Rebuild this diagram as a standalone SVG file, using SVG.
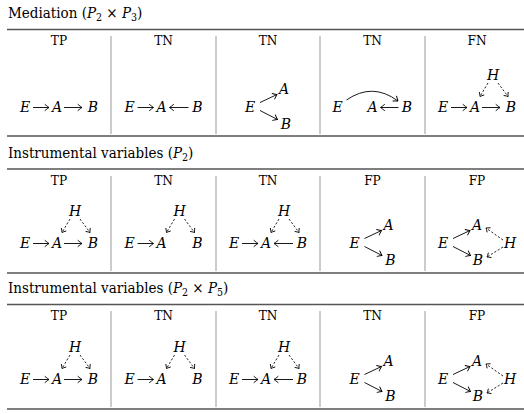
<svg xmlns="http://www.w3.org/2000/svg" width="524" height="414" viewBox="0 0 524 414">
<style>
.t{font-family:'DejaVu Serif Condensed','DejaVu Serif',serif;font-size:15px;fill:#000}
.h{font-family:'DejaVu Serif Condensed','DejaVu Serif',serif;font-size:13.5px;fill:#000;text-anchor:middle}
.m{font-family:'DejaVu Serif','DejaVu Serif Condensed',serif;font-size:14px;font-style:italic;fill:#000;text-anchor:middle}
.rule{stroke:#555;stroke-width:1.3}
.vsep{stroke:#999;stroke-width:1}
.c{fill:none;stroke:#000;stroke-width:0.9;marker-end:url(#ah)}
.d{fill:none;stroke:#000;stroke-width:0.85;stroke-dasharray:2.2 1.8;marker-end:url(#ahd)}
</style>
<defs>
<marker id="ah" viewBox="-6 -5 8 10" refX="0" refY="0" markerWidth="8" markerHeight="10" markerUnits="userSpaceOnUse" orient="auto" overflow="visible">
<path d="M-4,-3 Q-1.2,-0.8 0,0 Q-1.2,0.8 -4,3" fill="none" stroke="#000" stroke-width="0.9" stroke-linecap="round"/>
</marker>
<marker id="ahd" viewBox="-6 -5 8 10" refX="0" refY="0" markerWidth="8" markerHeight="10" markerUnits="userSpaceOnUse" orient="auto" overflow="visible">
<path d="M-3.2,-2.6 Q-1,-0.6 0,0 Q-1,0.6 -3.2,2.6" fill="none" stroke="#000" stroke-width="0.85" stroke-dasharray="none" stroke-linecap="round"/>
</marker>
</defs>

<g id="titles">
<text class="t" x="8" y="18">Mediation (<tspan font-style="italic">P</tspan><tspan font-size="10.5" dy="3">2</tspan><tspan dy="-3"> × </tspan><tspan font-style="italic">P</tspan><tspan font-size="10.5" dy="3">3</tspan><tspan dy="-3">)</tspan></text>
<text class="t" x="8" y="158">Instrumental variables (<tspan font-style="italic">P</tspan><tspan font-size="10.5" dy="3">2</tspan><tspan dy="-3">)</tspan></text>
<text class="t" x="8" y="293">Instrumental variables (<tspan font-style="italic">P</tspan><tspan font-size="10.5" dy="3">2</tspan><tspan dy="-3"> × </tspan><tspan font-style="italic">P</tspan><tspan font-size="10.5" dy="3">5</tspan><tspan dy="-3">)</tspan></text>
</g>

<g id="rules">
<line class="rule" x1="7" y1="29.5" x2="524" y2="29.5"/>
<line class="rule" x1="7" y1="136" x2="524" y2="136"/>
<line class="rule" x1="7" y1="169" x2="524" y2="169"/>
<line class="rule" x1="7" y1="273" x2="524" y2="273"/>
<line class="rule" x1="7" y1="304.5" x2="524" y2="304.5"/>
<line class="rule" x1="7" y1="409" x2="524" y2="409"/>
<g class="vsep">
<line x1="111" y1="36" x2="111" y2="134"/><line x1="216" y1="36" x2="216" y2="134"/><line x1="320" y1="36" x2="320" y2="134"/><line x1="425" y1="36" x2="425" y2="134"/>
<line x1="111" y1="176" x2="111" y2="271"/><line x1="216" y1="176" x2="216" y2="271"/><line x1="320" y1="176" x2="320" y2="271"/><line x1="425" y1="176" x2="425" y2="271"/>
<line x1="111" y1="311" x2="111" y2="407"/><line x1="216" y1="311" x2="216" y2="407"/><line x1="320" y1="311" x2="320" y2="407"/><line x1="425" y1="311" x2="425" y2="407"/>
</g>
</g>

<g id="headers">
<text class="h" x="59" y="45">TP</text><text class="h" x="163.5" y="45">TN</text><text class="h" x="268" y="45">TN</text><text class="h" x="372.5" y="45">TN</text><text class="h" x="477" y="45">FN</text>
<text class="h" x="59" y="185">TP</text><text class="h" x="163.5" y="185">TN</text><text class="h" x="268" y="185">TN</text><text class="h" x="372.5" y="185">FP</text><text class="h" x="477" y="185">FP</text>
<text class="h" x="59" y="320">TP</text><text class="h" x="163.5" y="320">TN</text><text class="h" x="268" y="320">TN</text><text class="h" x="372.5" y="320">TN</text><text class="h" x="477" y="320">FP</text>
</g>

<g id="connectors">
<g transform="translate(59,112)"><path class="c" d="M-26,-4.5 H-10"/><path class="c" d="M5,-4.5 H23"/></g>
<g transform="translate(163.5,112)"><path class="c" d="M-26,-4.5 H-10"/><path class="c" d="M25,-4.5 H6"/></g>
<g transform="translate(268,112)"><path class="c" d="M-8,-9.5 L9,-17.5"/><path class="c" d="M-8,-1.5 L9.5,7.5"/></g>
<g transform="translate(372.5,112)"><path class="c" d="M-26,-12 Q0,-30 25.5,-11"/><path class="c" d="M26,-4.5 H8"/></g>
<g transform="translate(477,112)"><path class="c" d="M-26,-4.5 H-10"/><path class="c" d="M5,-4.5 H23"/><path class="d" d="M11,-29 L3,-15.5"/><path class="d" d="M21,-29 L31,-15.5"/></g>
<g transform="translate(59,248)"><path class="c" d="M-26,-4.5 H-10"/><path class="c" d="M5,-4.5 H23"/><path class="d" d="M11,-29 L3,-15.5"/><path class="d" d="M21,-29 L31,-15.5"/></g>
<g transform="translate(163.5,248)"><path class="c" d="M-26,-4.5 H-10"/><path class="d" d="M11,-29 L3,-15.5"/><path class="d" d="M21,-29 L31,-15.5"/></g>
<g transform="translate(268,248)"><path class="c" d="M-26,-4.5 H-10"/><path class="c" d="M25,-4.5 H6"/><path class="d" d="M11,-29 L3,-15.5"/><path class="d" d="M21,-29 L31,-15.5"/></g>
<g transform="translate(372.5,248)"><path class="c" d="M-8,-9.5 L9,-17.5"/><path class="c" d="M-8,-1.5 L9.5,7.5"/></g>
<g transform="translate(477,248)"><path class="c" d="M-24,-9.5 L-7,-17.5"/><path class="c" d="M-24,-1.5 L-6.5,7.5"/><path class="d" d="M26,-8 L9,-20"/><path class="d" d="M26,-1 L10,9"/></g>
<g transform="translate(59,384)"><path class="c" d="M-26,-4.5 H-10"/><path class="c" d="M5,-4.5 H23"/><path class="d" d="M11,-29 L3,-15.5"/><path class="d" d="M21,-29 L31,-15.5"/></g>
<g transform="translate(163.5,384)"><path class="c" d="M-26,-4.5 H-10"/><path class="d" d="M11,-29 L3,-15.5"/><path class="d" d="M21,-29 L31,-15.5"/></g>
<g transform="translate(268,384)"><path class="c" d="M-26,-4.5 H-10"/><path class="c" d="M25,-4.5 H6"/><path class="d" d="M11,-29 L3,-15.5"/><path class="d" d="M21,-29 L31,-15.5"/></g>
<g transform="translate(372.5,384)"><path class="c" d="M-8,-9.5 L9,-17.5"/><path class="c" d="M-8,-1.5 L9.5,7.5"/></g>
<g transform="translate(477,384)"><path class="c" d="M-24,-9.5 L-7,-17.5"/><path class="c" d="M-24,-1.5 L-6.5,7.5"/><path class="d" d="M26,-8 L9,-20"/><path class="d" d="M26,-1 L10,9"/></g>
</g>

<g id="nodes">
<g transform="translate(59,112)"><g id="s1c1-E"><text class="m" x="-34" y="0">E</text></g><g id="s1c1-A"><text class="m" x="-2" y="0">A</text></g><g id="s1c1-B"><text class="m" x="34" y="0">B</text></g></g>
<g transform="translate(163.5,112)"><g id="s1c2-E"><text class="m" x="-34" y="0">E</text></g><g id="s1c2-A"><text class="m" x="-2" y="0">A</text></g><g id="s1c2-B"><text class="m" x="34" y="0">B</text></g></g>
<g transform="translate(268,112)"><g id="s1c3-E"><text class="m" x="-18" y="0">E</text></g><g id="s1c3-A"><text class="m" x="16" y="-18">A</text></g><g id="s1c3-B"><text class="m" x="18" y="17">B</text></g></g>
<g transform="translate(372.5,112)"><g id="s1c4-E"><text class="m" x="-35" y="0">E</text></g><g id="s1c4-A"><text class="m" x="0" y="0">A</text></g><g id="s1c4-B"><text class="m" x="34.5" y="0">B</text></g></g>
<g transform="translate(477,112)"><g id="s1c5-H"><text class="m" x="16" y="-32">H</text></g><g id="s1c5-E"><text class="m" x="-34" y="0">E</text></g><g id="s1c5-A"><text class="m" x="-2" y="0">A</text></g><g id="s1c5-B"><text class="m" x="34" y="0">B</text></g></g>
<g transform="translate(59,248)"><g id="s2c1-H"><text class="m" x="16" y="-32">H</text></g><g id="s2c1-E"><text class="m" x="-34" y="0">E</text></g><g id="s2c1-A"><text class="m" x="-2" y="0">A</text></g><g id="s2c1-B"><text class="m" x="34" y="0">B</text></g></g>
<g transform="translate(163.5,248)"><g id="s2c2-H"><text class="m" x="16" y="-32">H</text></g><g id="s2c2-E"><text class="m" x="-34" y="0">E</text></g><g id="s2c2-A"><text class="m" x="-2" y="0">A</text></g><g id="s2c2-B"><text class="m" x="34" y="0">B</text></g></g>
<g transform="translate(268,248)"><g id="s2c3-H"><text class="m" x="16" y="-32">H</text></g><g id="s2c3-E"><text class="m" x="-34" y="0">E</text></g><g id="s2c3-A"><text class="m" x="-2" y="0">A</text></g><g id="s2c3-B"><text class="m" x="34" y="0">B</text></g></g>
<g transform="translate(372.5,248)"><g id="s2c4-E"><text class="m" x="-18" y="0">E</text></g><g id="s2c4-A"><text class="m" x="16" y="-18">A</text></g><g id="s2c4-B"><text class="m" x="18" y="17">B</text></g></g>
<g transform="translate(477,248)"><g id="s2c5-E"><text class="m" x="-34" y="0">E</text></g><g id="s2c5-A"><text class="m" x="0" y="-18">A</text></g><g id="s2c5-B"><text class="m" x="1" y="17">B</text></g><g id="s2c5-H"><text class="m" x="33" y="0">H</text></g></g>
<g transform="translate(59,384)"><g id="s3c1-H"><text class="m" x="16" y="-32">H</text></g><g id="s3c1-E"><text class="m" x="-34" y="0">E</text></g><g id="s3c1-A"><text class="m" x="-2" y="0">A</text></g><g id="s3c1-B"><text class="m" x="34" y="0">B</text></g></g>
<g transform="translate(163.5,384)"><g id="s3c2-H"><text class="m" x="16" y="-32">H</text></g><g id="s3c2-E"><text class="m" x="-34" y="0">E</text></g><g id="s3c2-A"><text class="m" x="-2" y="0">A</text></g><g id="s3c2-B"><text class="m" x="34" y="0">B</text></g></g>
<g transform="translate(268,384)"><g id="s3c3-H"><text class="m" x="16" y="-32">H</text></g><g id="s3c3-E"><text class="m" x="-34" y="0">E</text></g><g id="s3c3-A"><text class="m" x="-2" y="0">A</text></g><g id="s3c3-B"><text class="m" x="34" y="0">B</text></g></g>
<g transform="translate(372.5,384)"><g id="s3c4-E"><text class="m" x="-18" y="0">E</text></g><g id="s3c4-A"><text class="m" x="16" y="-18">A</text></g><g id="s3c4-B"><text class="m" x="18" y="17">B</text></g></g>
<g transform="translate(477,384)"><g id="s3c5-E"><text class="m" x="-34" y="0">E</text></g><g id="s3c5-A"><text class="m" x="0" y="-18">A</text></g><g id="s3c5-B"><text class="m" x="1" y="17">B</text></g><g id="s3c5-H"><text class="m" x="33" y="0">H</text></g></g>
</g>
</svg>
